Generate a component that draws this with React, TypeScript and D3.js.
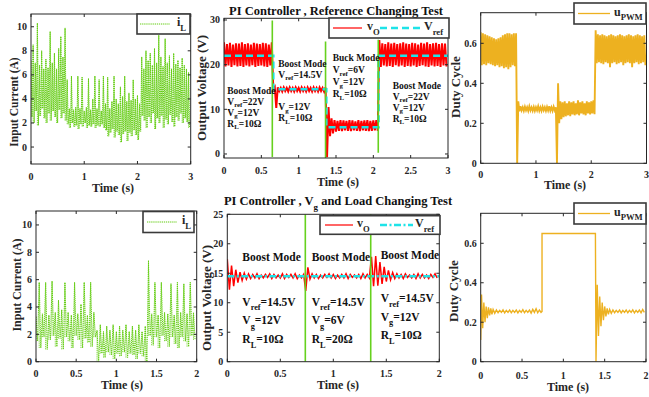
import * as d3 from 'd3';

const FONT = '"Liberation Serif", "Times New Roman", Times, serif';
const RED = '#ff0000';
const CYAN = '#1ee3e8';
const GREEN = '#66d11e';
const IL_GREEN = '#63cc12';
const ORANGE = '#edb120';
const INK = '#262626';

// spacing of the sampled peaks/troughs of the switching ripple (s)
const DT = 0.04;

// ---------- reference changing test (0..3 s) ----------
const iLRefHi = [
  7.2, 8.5, 7.0, 10.3, 6.8, 8.0, 6.5, 7.3, 6.6, 9.6, 7.0, 7.8, 6.5, 8.2, 9.2, 7.5, 9.9,
  5.6, 3.2, 5.9, 3.1, 3.3, 5.9, 3.2, 5.8, 3.0, 3.3, 5.7, 3.1, 4.0, 5.9, 3.2, 5.6, 3.0, 5.9,
  3.6, 5.8, 3.2, 3.8, 5.9, 4.0, 3.6, 5.0, 4.2, 5.9, 3.8, 4.5, 3.9, 5.6, 4.0, 4.3, 3.6,
  7.5, 6.5, 8.0, 7.2, 7.8, 6.8, 8.2, 7.0, 9.3, 7.5, 6.7, 9.0, 7.0, 7.6, 6.5, 7.8, 6.9, 7.2, 6.6, 7.4, 6.8, 6.5, 6.2,
];
const iLRefLo = [
  2.5, 2.0, 3.0, 1.8, 2.6, 3.2, 2.4, 2.0, 2.8, 2.2, 3.0, 2.5, 2.0, 3.1, 2.4, 2.8, 2.2,
  1.9, 1.6, 2.0, 1.7, 1.8, 1.5, 1.9, 1.7, 2.0, 1.6, 1.8, 1.7, 1.9, 1.6, 1.8, 1.7, 1.9, 1.6,
  1.4, 0.9, 1.2, 1.5, 0.8, 1.3, 1.0, 0.4, 1.1, 1.3, 0.5, 1.2, 0.9, 1.4, 1.0, 0.6, 1.3,
  2.6, 2.2, 1.6, 2.5, 2.0, 2.8, 1.5, 2.4, 2.0, 2.6, 1.6, 2.3, 1.9, 2.7, 2.1, 1.7, 2.5, 2.2, 2.8, 2.0, 2.4, 2.1, 1.6,
];
const vORefHi = [
  25.0, 24.6, 24.9, 24.5, 24.8, 24.7, 25.0, 24.6, 24.8, 24.5, 24.9, 24.7, 24.6, 24.9, 24.8, 24.5, 25.0,
  15.0, 14.9, 14.8, 14.9, 14.8, 14.9, 14.8, 14.9, 14.8, 14.9, 14.8, 14.9, 14.8, 14.9, 14.8, 14.9, 14.8, 14.9,
  10.5, 8.0, 7.6, 7.4, 7.6, 7.5, 7.4, 7.6, 7.5, 7.3, 7.6, 7.4, 7.5, 7.6, 7.4, 7.5, 7.6,
  25.5, 24.8, 24.6, 25.0, 24.7, 24.9, 24.6, 24.8, 25.0, 24.7, 24.6, 24.9, 24.8, 24.5, 24.9, 24.7, 25.0, 24.6, 24.8, 24.9, 24.6, 24.8, 24.7,
];
const vORefLo = [
  19.6, 19.8, 19.5, 19.9, 19.6, 19.7, 19.5, 19.8, 19.6, 19.9, 19.5, 19.7, 19.8, 19.6, 19.5, 19.8, 14.5,
  10.3, 14.1, 14.0, 14.1, 14.0, 14.1, 14.0, 14.1, 14.0, 14.1, 14.0, 14.1, 14.0, 14.1, 14.0, 14.1, 14.0, -0.7,
  4.0, 4.6, 5.0, 5.2, 5.1, 5.3, 5.2, 5.1, 5.3, 5.2, 5.1, 5.3, 5.2, 5.1, 5.2, 5.3, 5.2,
  19.5, 19.8, 19.6, 19.7, 19.5, 19.9, 19.6, 19.8, 19.5, 19.7, 19.6, 19.8, 19.5, 19.7, 19.9, 19.6, 19.5, 19.8, 19.6, 19.7, 19.5, 19.8, 19.6,
];
const vrefRefT = [0, 0.66, 1.37, 2.07, 3];
const vrefRefV = [22, 14.5, 6, 22, 22];
const switchRefT = [0.647, 1.36, 2.066];
const switchRefLo = [-0.7, -0.9, 0.3];
const switchRefHi = [29.9, 25.2, 25.6];
const dutyRefHi = [
  0.655, 0.65, 0.645, 0.64, 0.635, 0.63, 0.625, 0.62, 0.625, 0.63, 0.64, 0.645, 0.65, 0.65, 0.645, 0.65, 0.65,
  0.31, 0.285, 0.28, 0.283, 0.28, 0.285, 0.28, 0.282, 0.28, 0.285, 0.28, 0.283, 0.28, 0.282, 0.285, 0.28, 0.283, 0.28,
  0.4, 0.31, 0.305, 0.31, 0.3, 0.31, 0.305, 0.31, 0.3, 0.315, 0.305, 0.31, 0.3, 0.31, 0.305, 0.31, 0.315,
  0.665, 0.645, 0.64, 0.645, 0.64, 0.635, 0.64, 0.645, 0.64, 0.635, 0.64, 0.645, 0.64, 0.635, 0.64, 0.645, 0.64, 0.635, 0.64, 0.645, 0.64, 0.635, 0.64,
];
const dutyRefLo = [
  0.49, 0.495, 0.49, 0.5, 0.495, 0.49, 0.485, 0.49, 0.48, 0.485, 0.475, 0.48, 0.47, 0.48, 0.49, 0.485, 0.0,
  0.26, 0.265, 0.262, 0.265, 0.262, 0.265, 0.263, 0.262, 0.265, 0.263, 0.262, 0.265, 0.262, 0.264, 0.263, 0.262, 0.265, 0.0,
  0.2, 0.22, 0.23, 0.235, 0.24, 0.235, 0.245, 0.24, 0.245, 0.24, 0.25, 0.245, 0.24, 0.25, 0.245, 0.25, 0.245,
  0.5, 0.505, 0.5, 0.495, 0.505, 0.5, 0.48, 0.5, 0.505, 0.495, 0.5, 0.505, 0.49, 0.5, 0.505, 0.5, 0.48, 0.5, 0.505, 0.495, 0.5, 0.505, 0.49,
];

// ---------- Vg and load changing test (0..2 s) ----------
const iLVgHi = [
  3.3, 5.8, 3.5, 5.8, 3.4, 5.9, 3.6, 4.5, 3.8, 5.8, 3.6, 3.4, 5.8, 3.5, 4.2, 5.8, 3.4, 5.8, 3.6,
  2.3, 2.7, 2.2, 2.6, 2.3, 2.7, 2.2, 2.6, 2.3, 2.7, 2.2, 2.6, 2.3, 2.7, 2.2, 2.6,
  7.4, 3.5, 5.8, 3.4, 5.8, 3.6, 3.5, 5.7, 3.4, 5.8, 3.6, 5.7, 3.5, 5.8, 3.6,
];
const iLVgLo = [
  1.5, 1.0, 1.8, 0.9, 1.6, 1.9, 1.1, 1.7, 0.9, 1.8, 1.5, 1.0, 1.9, 1.6, 1.0, 1.7, 1.4, 1.1, 1.8,
  0.0, 0.6, 0.3, 0.7, 0.5, 0.2, 0.6, 0.4, 0.7, 0.3, 0.6, 0.5, 0.2, 0.6, 0.4, 0.0,
  1.9, 1.2, 1.8, 1.0, 1.9, 1.5, 1.1, 1.8, 1.3, 1.0, 1.8, 1.5, 1.1, 1.9, 1.6,
];
const vOVgHi = [
  17.4, 16.3, 15.6, 15.2, 15.0, 14.9, 14.8, 14.9, 14.7, 14.8, 14.9, 14.8, 14.7, 14.9, 14.8, 14.8, 14.9, 14.7, 14.8,
  16.0, 14.9, 14.8, 14.7, 14.8, 14.9, 14.8, 14.7, 14.8, 14.9, 14.8, 14.7, 14.8, 14.9, 14.8,
  17.8, 17.9, 16.9, 16.1, 15.5, 15.1, 14.9, 14.8, 14.9, 14.7, 14.8, 14.9, 14.8, 14.7, 14.8, 14.9,
];
const vOVgLo = [
  12.2, 12.8, 13.4, 13.8, 14.0, 14.1, 14.2, 14.1, 14.2, 14.3, 14.1, 14.2, 14.2, 14.1, 14.3, 14.2, 14.1, 14.2, 12.0,
  14.0, 14.2, 14.1, 14.2, 14.3, 14.2, 14.1, 14.2, 14.2, 14.1, 14.3, 14.2, 14.1, 14.2, 14.2,
  12.8, 12.9, 13.2, 13.6, 13.9, 14.1, 14.2, 14.1, 14.3, 14.2, 14.1, 14.2, 14.2, 14.1, 14.3, 14.2,
];
const vrefVgT = [0, 2];
const vrefVgV = [14.5, 14.5];
const switchVgT = [0.736, 1.353];
const dutyVgT = [
  0, 0.01, 0.024, 0.038, 0.052, 0.066, 0.08, 0.094, 0.108, 0.122, 0.136, 0.15, 0.17, 0.19, 0.21, 0.23, 0.25,
  0.27, 0.29, 0.31, 0.33, 0.35, 0.37, 0.39, 0.41, 0.43, 0.45, 0.47, 0.49, 0.51, 0.53, 0.55, 0.57, 0.59,
  0.61, 0.63, 0.65, 0.67, 0.69, 0.71, 0.73, 0.742, 0.742, 1.388, 1.395, 1.41, 1.425, 1.44, 1.455, 1.47,
  1.485, 1.5, 1.515, 1.53, 1.545, 1.56, 1.58, 1.6, 1.62, 1.64, 1.66, 1.68, 1.7, 1.72, 1.74, 1.76, 1.78,
  1.8, 1.82, 1.84, 1.86, 1.88, 1.9, 1.92, 1.94, 1.96, 1.98,
];
const dutyVgV = [
  0.11, 0.34, 0.17, 0.3, 0.2, 0.28, 0.22, 0.275, 0.235, 0.27, 0.24, 0.265, 0.245, 0.262, 0.248, 0.26, 0.25,
  0.263, 0.247, 0.26, 0.25, 0.262, 0.248, 0.26, 0.25, 0.262, 0.247, 0.26, 0.25, 0.264, 0.248, 0.26, 0.25, 0.262,
  0.246, 0.265, 0.25, 0.268, 0.248, 0.262, 0.25, 0.255, 0.65, 0.65, 0.0, 0.39, 0.13, 0.33, 0.18, 0.3,
  0.21, 0.28, 0.23, 0.27, 0.24, 0.265, 0.245, 0.262, 0.248, 0.26, 0.25, 0.262, 0.247, 0.26, 0.25, 0.262, 0.248,
  0.26, 0.25, 0.263, 0.247, 0.26, 0.25, 0.262, 0.248, 0.265, 0.25,
];

const ticks3 = [0, 1, 2, 3];
const ticks3h = [0, 0.5, 1, 1.5, 2, 2.5, 3];
const ticks2h = [0, 0.5, 1, 1.5, 2];
const iLTicks = [0, 2, 4, 6, 8, 10];
const vRefTicks = [0, 10, 20, 30];
const vVgTicks = [0, 5, 10, 15, 20, 25];
const dutyTicks = [0, 0.2, 0.4, 0.6];

type Pt = [number, number];
type Frame = { x0: number; x1: number; y0: number; y1: number };
type Scale = d3.ScaleLinear<number, number>;
type Parts = string[];

const zigzag = (hi: number[], lo: number[]): Pt[] =>
  hi.flatMap((h, i): Pt[] => [[i * DT, h], [i * DT + DT / 2, lo[i]]]);
const pairs = (t: number[], v: number[]): Pt[] =>
  t.slice(0, Math.min(t.length, v.length)).map((d, i): Pt => [d, v[i]]);
const pathOf = (pts: Pt[], x: Scale, y: Scale, curve: d3.CurveFactory = d3.curveLinear) =>
  d3.line<Pt>().x((d) => x(d[0])).y((d) => y(d[1])).curve(curve)(pts) ?? '';
// vertical strokes lo..hi at each sample time (dense look of the dotted current)
const spikes = (hi: number[], lo: number[], x: Scale, y: Scale) =>
  hi.map((h, i) => `M${x(i * DT)},${y(lo[i])}V${y(h)}`).join('');

// text with a MATLAB-like subscript: [main, sub, rest]
function Sub({ parts, size, drop = 0.4 }: { parts: Parts; size: number; drop?: number }) {
  const [main, sub, rest] = parts;
  const sh = size * drop;
  return (
    <>
      <tspan>{main}</tspan>
      {sub && <tspan dy={sh} fontSize={size * 0.72}>{sub}</tspan>}
      {rest && <tspan dy={-sh}>{rest}</tspan>}
    </>
  );
}

type AxesProps = {
  f: Frame; x: Scale; y: Scale; xTicks: number[]; yTicks: number[];
  xTickDy: number; timeX: number; timeY: number;
  yTitle: string; yTitleX: number; yTitleY: number; yTitleSize: number;
};

function Axes({ f, x, y, xTicks, yTicks, xTickDy, timeX, timeY, yTitle, yTitleX, yTitleY, yTitleSize }: AxesProps) {
  return (
    <g fill={INK}>
      <rect x={f.x0} y={f.y0} width={f.x1 - f.x0} height={f.y1 - f.y0} fill="none" stroke={INK} strokeWidth={1} />
      {xTicks.map((t) => (
        <g key={'x' + t}>
          <line x1={x(t)} x2={x(t)} y1={f.y1} y2={f.y1 - 3} stroke={INK} />
          <line x1={x(t)} x2={x(t)} y1={f.y0} y2={f.y0 + 3} stroke={INK} />
          <text x={x(t)} y={f.y1 + xTickDy} fontSize={10} textAnchor="middle">{String(t)}</text>
        </g>
      ))}
      {yTicks.map((t) => (
        <g key={'y' + t}>
          <line x1={f.x0} x2={f.x0 + 3} y1={y(t)} y2={y(t)} stroke={INK} />
          <line x1={f.x1} x2={f.x1 - 3} y1={y(t)} y2={y(t)} stroke={INK} />
          <text x={f.x0 - 4} y={y(t)} dy="0.35em" fontSize={10} textAnchor="end">{String(t)}</text>
        </g>
      ))}
      <text x={timeX} y={timeY} fontSize={12} textAnchor="middle">Time (s)</text>
      <text transform={`translate(${yTitleX},${yTitleY}) rotate(-90)`} dy="0.35em" fontSize={yTitleSize} textAnchor="middle">
        {yTitle}
      </text>
    </g>
  );
}

type LegendItem = { x1: number; x2: number; color: string; width: number; dash?: string; tx: number; label: Parts };

function Legend({ x, y, w, h, items }: { x: number; y: number; w: number; h: number; items: LegendItem[] }) {
  const cy = y + h / 2;
  return (
    <g>
      <rect x={x} y={y} width={w} height={h} fill="#fff" stroke="#3a3a3a" strokeWidth={1.6} />
      {items.map((it, i) => (
        <g key={i}>
          <line x1={it.x1} x2={it.x2} y1={cy} y2={cy} stroke={it.color} strokeWidth={it.width} strokeDasharray={it.dash} />
          <text x={it.tx} y={cy + 2} fontSize={12} fill={INK}><Sub parts={it.label} size={12} /></text>
        </g>
      ))}
    </g>
  );
}

type Note = { t: number; v: number; gap: number; size: number; drop: number; lines: Parts[] };

function Notes({ notes, x, y }: { notes: Note[]; x: Scale; y: Scale }) {
  return (
    <g fill="#111">
      {notes.map((n, i) => (
        <g key={i}>
          {n.lines.map((ln, j) => (
            <text key={j} x={x(n.t)} y={y(n.v) + j * n.gap} fontSize={n.size}>
              <Sub parts={ln} size={n.size} drop={n.drop} />
            </text>
          ))}
        </g>
      ))}
    </g>
  );
}

function Clip({ id, f }: { id: string; f: Frame }) {
  return (
    <clipPath id={id}>
      <rect x={f.x0} y={f.y0} width={f.x1 - f.x0} height={f.y1 - f.y0} />
    </clipPath>
  );
}

// frames
const fTL: Frame = { x0: 31, x1: 190.7, y0: 14, y1: 164 };
const fTM: Frame = { x0: 224, x1: 448, y0: 18.3, y1: 158 };
const fTR: Frame = { x0: 480.7, x1: 646.5, y0: 12.7, y1: 163.3 };
const fBL: Frame = { x0: 36, x1: 196.7, y0: 211, y1: 361.7 };
const fBM: Frame = { x0: 227.3, x1: 439.3, y0: 214.3, y1: 361.7 };
const fBR: Frame = { x0: 480.7, x1: 646, y0: 213.3, y1: 361.7 };

const xTL = d3.scaleLinear().domain([0, 3]).range([fTL.x0, fTL.x1]);
const yTL = d3.scaleLinear().domain([-1.41, 11.06]).range([fTL.y1, fTL.y0]);
const xTM = d3.scaleLinear().domain([0, 3]).range([fTM.x0, fTM.x1]);
const yTM = d3.scaleLinear().domain([-0.9, 30.38]).range([fTM.y1, fTM.y0]);
const xTR = d3.scaleLinear().domain([0, 3]).range([fTR.x0, fTR.x1]);
const yTR = d3.scaleLinear().domain([0, 0.753]).range([fTR.y1, fTR.y0]);
const xBL = d3.scaleLinear().domain([0, 2]).range([fBL.x0, fBL.x1]);
const yBL = d3.scaleLinear().domain([0, 11.02]).range([fBL.y1, fBL.y0]);
const xBM = d3.scaleLinear().domain([0, 2]).range([fBM.x0, fBM.x1]);
const yBM = d3.scaleLinear().domain([0, 25]).range([fBM.y1, fBM.y0]);
const xBR = d3.scaleLinear().domain([0, 2]).range([fBR.x0, fBR.x1]);
const yBR = d3.scaleLinear().domain([0, 0.752]).range([fBR.y1, fBR.y0]);

const notesRef: Note[] = [
  { t: 0.044, v: 13.43, gap: 11, size: 9.5, drop: 0.26, lines: [['Boost Mode'], ['V', 'ref', '=22V'], ['V', 'g', '=12V'], ['R', 'L', '=10Ω']] },
  { t: 0.727, v: 19.47, gap: 11, size: 9.5, drop: 0.26, lines: [['Boost Mode'], ['V', 'ref', '=14.5V']] },
  { t: 0.727, v: 9.78, gap: 11, size: 9.5, drop: 0.26, lines: [['V', 'g', '=12V'], ['R', 'L', '=10Ω']] },
  { t: 1.456, v: 20.75, gap: 12, size: 9.5, drop: 0.26, lines: [['Buck Mode'], ['V', 'ref', '=6V'], ['V', 'g', '=12V'], ['R', 'L', '=10Ω']] },
  { t: 2.259, v: 14.61, gap: 11, size: 9.5, drop: 0.26, lines: [['Boost Mode'], ['V', 'ref', '=22V'], ['V', 'g', '=12V'], ['R', 'L', '=10Ω']] },
];
const notesVg: Note[] = [
  { t: 0.142, v: 17.0, gap: 0, size: 11.5, drop: 0.4, lines: [['Boost Mode']] },
  { t: 0.796, v: 17.08, gap: 0, size: 11.5, drop: 0.4, lines: [['Boost Mode']] },
  { t: 1.447, v: 17.42, gap: 0, size: 11.5, drop: 0.4, lines: [['Boost Mode']] },
  { t: 0.142, v: 9.53, gap: 18.7, size: 11.5, drop: 0.4, lines: [['V', 'ref', '=14.5V'], ['V', 'g', '=12V'], ['R', 'L', '=10Ω']] },
  { t: 0.796, v: 9.53, gap: 18.7, size: 11.5, drop: 0.4, lines: [['V', 'ref', '=14.5V'], ['V', 'g', '=6V'], ['R', 'L', '=20Ω']] },
  { t: 1.447, v: 10.13, gap: 18.7, size: 11.5, drop: 0.4, lines: [['V', 'ref', '=14.5V'], ['V', 'g', '=12V'], ['R', 'L', '=10Ω']] },
];

const IL_DASH = '1.3,0.8';

export default function App() {
  return (
    <div style={{ position: 'absolute', left: 0, top: 0 }}>
      <svg width={649} height={397} fontFamily={FONT} fontWeight="bold" style={{ display: 'block', background: '#fff' }}>
        <defs>
          <Clip id="cTL" f={fTL} />
          <Clip id="cTM" f={fTM} />
          <Clip id="cTR" f={fTR} />
          <Clip id="cBL" f={fBL} />
          <Clip id="cBM" f={fBM} />
          <Clip id="cBR" f={fBR} />
        </defs>

        {/* top left: inductor current */}
        <g clipPath="url(#cTL)" fill="none" stroke={IL_GREEN} strokeWidth={1} strokeDasharray={IL_DASH}>
          <path d={pathOf(zigzag(iLRefHi, iLRefLo), xTL, yTL)} />
          <path d={spikes(iLRefHi, iLRefLo, xTL, yTL)} opacity={0.8} />
        </g>
        <Axes f={fTL} x={xTL} y={yTL} xTicks={ticks3} yTicks={iLTicks} xTickDy={16} timeX={113} timeY={192}
          yTitle="Input Current (A)" yTitleX={13.5} yTitleY={102} yTitleSize={11.5} />
        <Legend x={137} y={14} w={53} h={20}
          items={[{ x1: 140, x2: 170, color: IL_GREEN, width: 1, dash: IL_DASH, tx: 177, label: ['i', 'L'] }]} />

        {/* top middle: output voltage, reference changing */}
        <g clipPath="url(#cTM)">
          <path d={pathOf(zigzag(vORefHi, vORefLo), xTM, yTM)} fill="none" stroke={RED} strokeWidth={2} />
          <path d={pathOf(pairs(vrefRefT, vrefRefV), xTM, yTM, d3.curveStepAfter)} fill="none" stroke={CYAN} strokeWidth={2.6} strokeDasharray="7,4" />
          {switchRefT.map((t, i) => (
            <line key={i} x1={xTM(t)} x2={xTM(t)} y1={yTM(switchRefLo[i])} y2={yTM(switchRefHi[i])} stroke={GREEN} strokeWidth={1.6} />
          ))}
        </g>
        <Axes f={fTM} x={xTM} y={yTM} xTicks={ticks3h} yTicks={vRefTicks} xTickDy={15.5} timeX={338} timeY={186}
          yTitle="Output Voltage (V)" yTitleX={201.5} yTitleY={88} yTitleSize={13} />
        <text x={336} y={14.5} fontSize={12.5} textAnchor="middle" fill="#111">PI Controller , Reference Changing Test</text>
        <Legend x={329} y={18} w={120} h={20}
          items={[
            { x1: 333, x2: 362, color: RED, width: 1.2, tx: 367, label: ['v', 'O'] },
            { x1: 380, x2: 420, color: CYAN, width: 2.6, dash: '7,4', tx: 424, label: ['V', 'ref'] },
          ]} />
        <Notes notes={notesRef} x={xTM} y={yTM} />

        {/* top right: duty cycle */}
        <g clipPath="url(#cTR)">
          <path d={pathOf(zigzag(dutyRefHi, dutyRefLo), xTR, yTR)} fill="none" stroke={ORANGE} strokeWidth={1.9} />
        </g>
        <Axes f={fTR} x={xTR} y={yTR} xTicks={ticks3} yTicks={dutyTicks} xTickDy={15} timeX={565} timeY={189}
          yTitle="Duty Cycle" yTitleX={455} yTitleY={87} yTitleSize={13} />
        <Legend x={574} y={3} w={72} h={21}
          items={[{ x1: 578, x2: 610, color: ORANGE, width: 1.3, tx: 614, label: ['u', 'PWM'] }]} />

        {/* bottom left: inductor current */}
        <g clipPath="url(#cBL)" fill="none" stroke={IL_GREEN} strokeWidth={1} strokeDasharray={IL_DASH}>
          <path d={pathOf(zigzag(iLVgHi, iLVgLo), xBL, yBL)} />
          <path d={spikes(iLVgHi, iLVgLo, xBL, yBL)} opacity={0.8} />
        </g>
        <Axes f={fBL} x={xBL} y={yBL} xTicks={ticks2h} yTicks={iLTicks} xTickDy={15.5} timeX={122} timeY={389}
          yTitle="Input Current (A)" yTitleX={16.5} yTitleY={285} yTitleSize={12} />
        <Legend x={143} y={211.5} w={51} h={21}
          items={[{ x1: 147, x2: 177, color: IL_GREEN, width: 1, dash: IL_DASH, tx: 182, label: ['i', 'L'] }]} />

        {/* bottom middle: output voltage, Vg and load changing */}
        <g clipPath="url(#cBM)">
          <path d={pathOf(zigzag(vOVgHi, vOVgLo), xBM, yBM)} fill="none" stroke={RED} strokeWidth={1.5} />
          <path d={pathOf(pairs(vrefVgT, vrefVgV), xBM, yBM)} fill="none" stroke={CYAN} strokeWidth={2.6} strokeDasharray="7,2.5,2,2.5" />
          {switchVgT.map((t, i) => (
            <line key={i} x1={xBM(t)} x2={xBM(t)} y1={yBM(0)} y2={yBM(25)} stroke={GREEN} strokeWidth={1.6} />
          ))}
        </g>
        <Axes f={fBM} x={xBM} y={yBM} xTicks={ticks2h} yTicks={vVgTicks} xTickDy={15} timeX={338} timeY={389}
          yTitle="Output Voltage (V)" yTitleX={206} yTitleY={298} yTitleSize={13} />
        <text x={338} y={205} fontSize={12.5} textAnchor="middle" fill="#111">
          <Sub parts={['PI Controller , V', 'g', ' and Load Changing Test']} size={12.5} />
        </text>
        <Legend x={320} y={215.7} w={120} h={18.6}
          items={[
            { x1: 325, x2: 353, color: RED, width: 1.2, tx: 357, label: ['v', 'O'] },
            { x1: 380, x2: 413, color: CYAN, width: 2.6, dash: '7,2.5,2,2.5', tx: 415, label: ['V', 'ref'] },
          ]} />
        <Notes notes={notesVg} x={xBM} y={yBM} />

        {/* bottom right: duty cycle */}
        <g clipPath="url(#cBR)">
          <path d={pathOf(pairs(dutyVgT, dutyVgV), xBR, yBR)} fill="none" stroke={ORANGE} strokeWidth={1.4} />
        </g>
        <Axes f={fBR} x={xBR} y={yBR} xTicks={ticks2h} yTicks={dutyTicks} xTickDy={17} timeX={568} timeY={391}
          yTitle="Duty Cycle" yTitleX={453} yTitleY={291} yTitleSize={13} />
        <Legend x={574} y={203} w={72} h={21}
          items={[{ x1: 578, x2: 610, color: ORANGE, width: 1.3, tx: 614, label: ['u', 'PWM'] }]} />
      </svg>
    </div>
  );
}
